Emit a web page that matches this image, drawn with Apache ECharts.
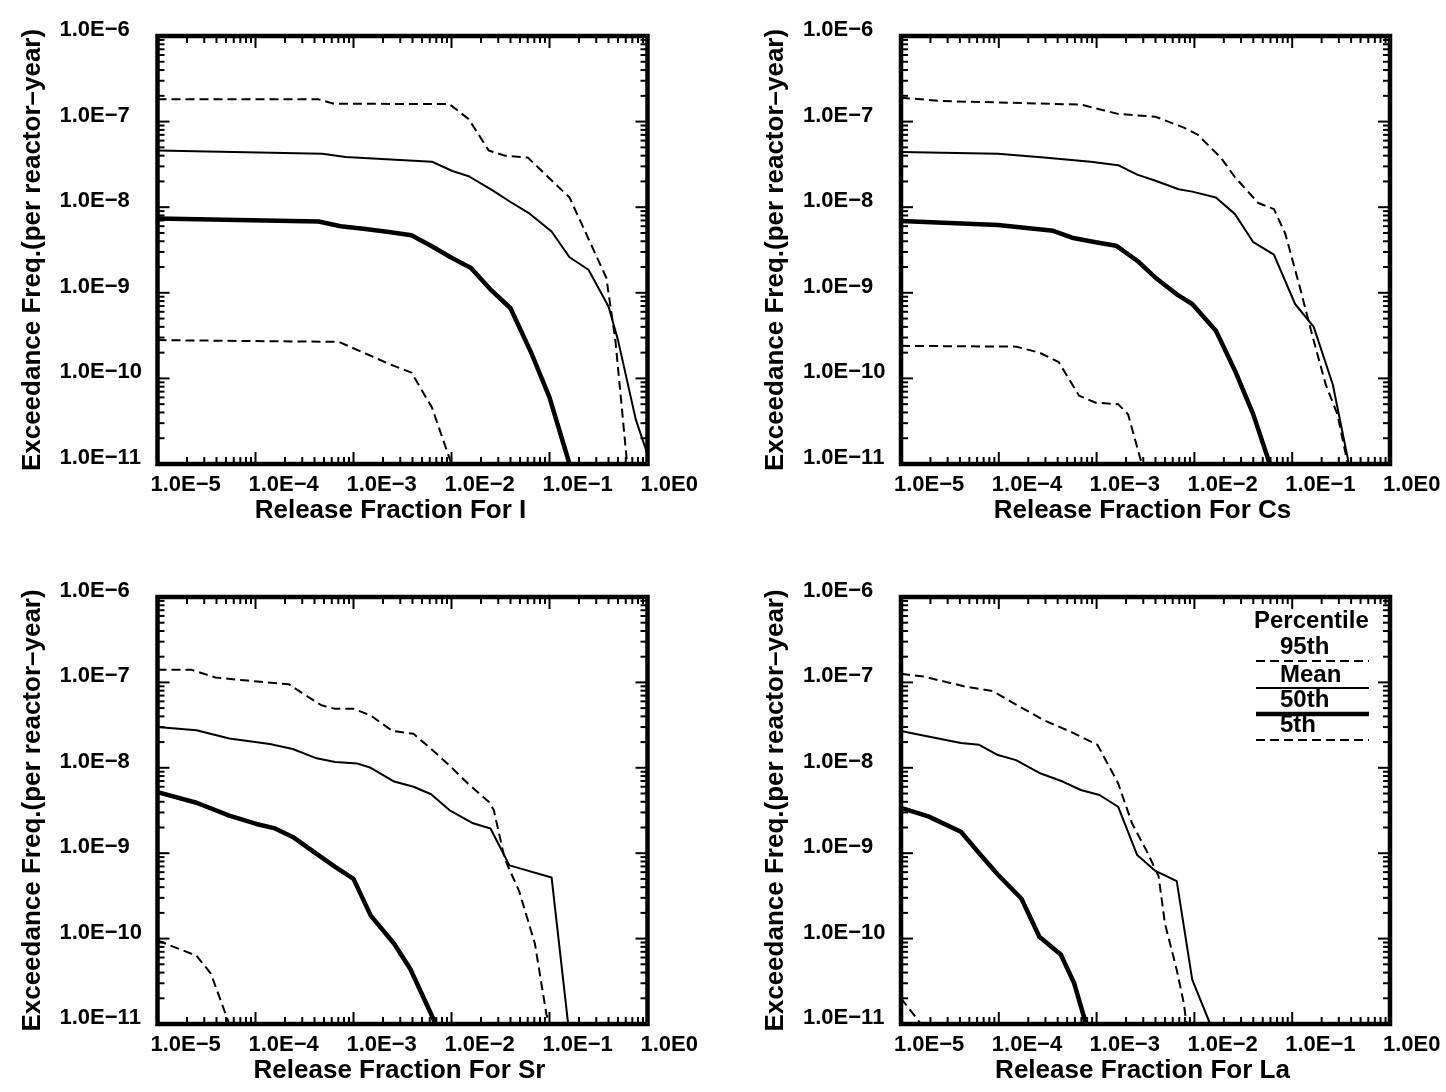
<!DOCTYPE html>
<html>
<head>
<meta charset="utf-8">
<script src="https://cdn.jsdelivr.net/npm/echarts@6/dist/echarts.min.js"></script>
<style>
html,body{margin:0;padding:0;background:#fff;}
#chart{width:1446px;height:1092px;}
</style>
</head>
<body>
<div id="chart"></div>
<script>
// Complementary cumulative distributions of release fraction, per nuclide group.
// Each point: [release fraction, exceedance frequency per reactor-year]

// Iodine
const iP95  = [[1e-5,1.82e-7],[4.4e-4,1.82e-7],[6.3e-4,1.62e-7],[9.5e-3,1.6e-7],[1.5e-2,1.07e-7],[2.4e-2,4.6e-8],[3.5e-2,4.0e-8],[6.0e-2,3.8e-8],[0.16,1.3e-8],[0.38,1.5e-9],[0.47,2.8e-10],[0.62,1e-11]];
const iMean = [[1e-5,4.6e-8],[4.8e-4,4.2e-8],[8.3e-4,3.85e-8],[6.3e-3,3.4e-8],[1.02e-2,2.65e-8],[1.5e-2,2.3e-8],[2.6e-2,1.58e-8],[4.0e-2,1.15e-8],[6.1e-2,8.6e-9],[0.105,5.2e-9],[0.16,2.6e-9],[0.25,1.86e-9],[0.40,6.9e-10],[0.50,2.8e-10],[0.76,3.3e-11],[1.0,1.3e-11]];
const iP50  = [[1e-5,7.4e-9],[4.4e-4,6.8e-9],[7.4e-4,6.0e-9],[1.26e-3,5.6e-9],[2.4e-3,5.1e-9],[3.9e-3,4.7e-9],[6.3e-3,3.5e-9],[9.8e-3,2.6e-9],[1.58e-2,1.95e-9],[2.45e-2,1.12e-9],[4.0e-2,6.6e-10],[6.5e-2,2.0e-10],[0.1,6.0e-11],[0.16,1e-11]];
const iP5   = [[1e-5,2.8e-10],[7.1e-4,2.67e-10],[1.4e-3,1.9e-10],[2.4e-3,1.45e-10],[3.9e-3,1.17e-10],[6.3e-3,4.6e-11],[1.0e-2,1e-11]];

// Cesium
const csP95  = [[1e-5,1.9e-7],[2.6e-5,1.74e-7],[6.9e-4,1.58e-7],[1.2e-3,1.35e-7],[1.66e-3,1.23e-7],[4.0e-3,1.14e-7],[7.8e-3,8.5e-8],[1.07e-2,7.1e-8],[1.86e-2,3.8e-8],[2.6e-2,2.24e-8],[4.5e-2,1.12e-8],[6.5e-2,9.5e-9],[8.5e-2,4.9e-9],[0.12,1.15e-9],[0.166,2.75e-10],[0.22,8.5e-11],[0.29,3.8e-11],[0.37,1e-11]];
const csMean = [[1e-5,4.4e-8],[9.8e-5,4.2e-8],[2.9e-4,3.8e-8],[8.7e-4,3.4e-8],[1.66e-3,3.1e-8],[2.6e-3,2.4e-8],[4.0e-3,2.04e-8],[6.9e-3,1.62e-8],[9.5e-3,1.52e-8],[1.66e-2,1.3e-8],[2.6e-2,8.3e-9],[4.0e-2,3.9e-9],[6.5e-2,2.8e-9],[0.107,7.4e-10],[0.166,4.0e-10],[0.26,8.5e-11],[0.38,1e-11]];
const csP50  = [[1e-5,6.9e-9],[9.8e-5,6.2e-9],[3.6e-4,5.3e-9],[5.6e-4,4.4e-9],[9.8e-4,3.9e-9],[1.58e-3,3.55e-9],[2.6e-3,2.37e-9],[4.0e-3,1.5e-9],[6.6e-3,9.6e-10],[9.5e-3,7.4e-10],[1.66e-2,3.6e-10],[2.6e-2,1.23e-10],[4.0e-2,3.8e-11],[5.9e-2,1e-11]];
const csP5   = [[1e-5,2.4e-10],[1.5e-4,2.35e-10],[2.6e-4,2.0e-10],[4.1e-4,1.55e-10],[6.6e-4,6.3e-11],[9.8e-4,5.2e-11],[1.66e-3,5.0e-11],[2.1e-3,3.8e-11],[2.9e-3,1e-11]];

// Strontium
const srP95  = [[1e-5,1.41e-7],[2.2e-5,1.41e-7],[3.9e-5,1.14e-7],[8.3e-5,1.05e-7],[2.2e-4,9.5e-8],[2.7e-4,8.1e-8],[4.7e-4,5.4e-8],[6.5e-4,4.9e-8],[1e-3,4.9e-8],[1.5e-3,4.1e-8],[2.5e-3,2.7e-8],[4.1e-3,2.5e-8],[6.2e-3,1.66e-8],[9.5e-3,1.07e-8],[1.48e-2,6.5e-9],[2.4e-2,4.0e-9],[2.7e-2,3.2e-9],[3.5e-2,8.5e-10],[4.9e-2,3.6e-10],[7.1e-2,8.7e-11],[9.3e-2,1.3e-11],[0.1,1e-11]];
const srMean = [[1e-5,3.0e-8],[2.5e-5,2.75e-8],[5.4e-5,2.2e-8],[1.4e-4,1.9e-8],[2.4e-4,1.66e-8],[4.2e-4,1.29e-8],[6.5e-4,1.17e-8],[1.1e-3,1.12e-8],[1.5e-3,1.0e-8],[2.6e-3,6.9e-9],[4.1e-3,6.0e-9],[6.2e-3,4.9e-9],[9.5e-3,3.2e-9],[1.66e-2,2.24e-9],[2.5e-2,1.95e-9],[3.9e-2,7.2e-10],[0.105,5.2e-10],[0.155,1e-11]];
const srP50  = [[1e-5,5.2e-9],[2.5e-5,3.9e-9],[5.4e-5,2.75e-9],[1.02e-4,2.2e-9],[1.58e-4,1.95e-9],[2.4e-4,1.55e-9],[4.2e-4,9.8e-10],[6.5e-4,6.9e-10],[1e-3,5.0e-10],[1.5e-3,1.86e-10],[2.6e-3,8.7e-11],[3.8e-3,4.4e-11],[6.9e-3,1e-11]];
const srP5   = [[1e-5,9.5e-11],[2.5e-5,6.3e-11],[3.5e-5,3.9e-11],[5.4e-5,1e-11]];

// Lanthanum
const laP95  = [[1e-5,1.26e-7],[1.7e-5,1.17e-7],[4.6e-5,8.9e-8],[8.7e-5,7.9e-8],[1.5e-4,5.5e-8],[2.9e-4,3.6e-8],[5.6e-4,2.6e-8],[1.02e-3,1.86e-8],[1.66e-3,6.6e-9],[2.3e-3,2.24e-9],[3.2e-3,1.1e-9],[4.3e-3,5.4e-10],[5.0e-3,1.5e-10],[6.6e-3,4.3e-11],[7.8e-3,1.74e-11],[8.3e-3,1e-11]];
const laMean = [[1e-5,2.7e-8],[1.5e-5,2.45e-8],[4.1e-5,1.95e-8],[6.3e-5,1.86e-8],[9.8e-5,1.41e-8],[1.5e-4,1.23e-8],[2.6e-4,8.7e-9],[4.5e-4,6.9e-9],[6.9e-4,5.5e-9],[1.07e-3,4.8e-9],[1.66e-3,3.5e-9],[2.6e-3,9.5e-10],[4.0e-3,6.2e-10],[6.6e-3,4.7e-10],[9.5e-3,3.3e-11],[1.45e-2,1e-11]];
const laP50  = [[1e-5,3.4e-9],[1.9e-5,2.7e-9],[4.1e-5,1.78e-9],[6.3e-5,1e-9],[9.8e-5,5.6e-10],[1.7e-4,2.95e-10],[2.6e-4,1.05e-10],[4.3e-4,6.5e-11],[5.9e-4,3.0e-11],[7.8e-4,1e-11]];
const laP5   = [[1e-5,2.0e-11],[1.6e-5,1e-11]];

// Axis tick labels
const xTickLabels = ['1.0E\u22125','1.0E\u22124','1.0E\u22123','1.0E\u22122','1.0E\u22121','1.0E0'];
const yTickLabels = ['1.0E\u221211','1.0E\u221210','1.0E\u22129','1.0E\u22128','1.0E\u22127','1.0E\u22126'];
const xTitles = ['Release Fraction For I','Release Fraction For Cs','Release Fraction For Sr','Release Fraction For La'];
const yTitle = 'Exceedance Freq.(per reactor\u2013year)';
const legendTitle = 'Percentile';
const legendNames = ['95th','Mean','50th','5th'];

const panelData = [
  [iP95, iMean, iP50, iP5],
  [csP95, csMean, csP50, csP5],
  [srP95, srMean, srP50, srP5],
  [laP95, laMean, laP50, laP5]
];

const X_MIN = 1e-5, X_MAX = 1, Y_MIN = 1e-11, Y_MAX = 1e-6;
const FONT = '"Liberation Sans", Arial, sans-serif';
const DASH = [9, 5];

// line style per percentile curve: 95th, mean, 50th, 5th
const curveStyles = [
  {width: 2,   type: DASH},
  {width: 2,   type: 'solid'},
  {width: 4.5, type: 'solid'},
  {width: 2,   type: DASH}
];

const grids = [
  {left: 157.5, top: 36,  width: 490, height: 428},
  {left: 901,   top: 36,  width: 489, height: 428},
  {left: 157.5, top: 597, width: 490, height: 427},
  {left: 901,   top: 597, width: 489, height: 427}
];
// horizontal nudge of each x-axis title (right padding shifts it left)
const xTitlePad = [24, 6, 6, 6];

// log-decade tick marks (value, major flag) for both axes
function decadeTicks(lo, hi) {
  const out = [];
  for (let e = lo; e < hi; e++) {
    for (let m = 1; m <= 9; m++) out.push([m * Math.pow(10, e), m === 1 ? 1 : 0]);
  }
  out.push([Math.pow(10, hi), 1]);
  return out;
}
const xTicks = decadeTicks(-5, 0);
const yTicks = decadeTicks(-11, -6);
const tickData = [];
xTicks.forEach(t => tickData.push([t[0], Y_MIN, 0, t[1]]));
yTicks.forEach(t => tickData.push([X_MIN, t[0], 1, t[1]]));

// inward tick marks on all four sides of a frame
function renderTicks(params, api) {
  const kind = api.value(2);
  const major = api.value(3);
  const len = major ? 12 : 7;
  const st = {stroke: '#000', lineWidth: 2};
  if (kind === 0) {
    const v = api.value(0);
    const b = api.coord([v, Y_MIN]);
    const t = api.coord([v, Y_MAX]);
    return {type: 'group', children: [
      {type: 'line', shape: {x1: b[0], y1: b[1], x2: b[0], y2: b[1] - len}, style: st},
      {type: 'line', shape: {x1: t[0], y1: t[1], x2: t[0], y2: t[1] + len}, style: st}
    ]};
  }
  const v = api.value(1);
  const l = api.coord([X_MIN, v]);
  const r = api.coord([X_MAX, v]);
  return {type: 'group', children: [
    {type: 'line', shape: {x1: l[0], y1: l[1], x2: l[0] + len, y2: l[1]}, style: st},
    {type: 'line', shape: {x1: r[0], y1: r[1], x2: r[0] - len, y2: r[1]}, style: st}
  ]};
}

const labelRich = {
  t: {fontFamily: FONT, fontWeight: 'bold', fontSize: 22, lineHeight: 24, color: '#000'},
  s: {fontSize: 1, lineHeight: 12}
};

const option = {
  animation: false,
  backgroundColor: '#fff',
  textStyle: {fontFamily: FONT, color: '#000'},
  grid: grids.map(g => Object.assign({
    show: true, borderColor: '#000', borderWidth: 4.5, backgroundColor: 'transparent', containLabel: false
  }, g)),
  xAxis: grids.map((g, i) => ({
    type: 'log', logBase: 10, gridIndex: i, min: X_MIN, max: X_MAX, splitNumber: 5,
    axisLine: {show: false}, axisTick: {show: false}, splitLine: {show: false}, minorTick: {show: false},
    axisLabel: {
      show: true, color: '#000', fontFamily: FONT, fontWeight: 'bold', fontSize: 22,
      align: 'left', verticalAlign: 'top', margin: 10, padding: [0, 0, 0, -7],
      formatter: v => xTickLabels[Math.round(Math.log10(v)) + 5]
    },
    name: xTitles[i], nameLocation: 'middle', nameGap: 34,
    nameTextStyle: {color: '#000', fontFamily: FONT, fontWeight: 'bold', fontSize: 26,
      verticalAlign: 'top', padding: [0, xTitlePad[i], 0, 0]}
  })),
  yAxis: grids.map((g, i) => ({
    type: 'log', logBase: 10, gridIndex: i, min: Y_MIN, max: Y_MAX, splitNumber: 5,
    axisLine: {show: false}, axisTick: {show: false}, splitLine: {show: false}, minorTick: {show: false},
    axisLabel: {
      show: true, color: '#000', align: 'left', verticalAlign: 'middle', margin: 98,
      rich: labelRich,
      formatter: v => '{t|' + yTickLabels[Math.round(Math.log10(v)) + 11] + '}\n{s| }'
    },
    name: yTitle, nameLocation: 'middle', nameGap: 112,
    nameTextStyle: {color: '#000', fontFamily: FONT, fontWeight: 'bold', fontSize: 26}
  })),
  series: []
};

panelData.forEach((curves, i) => {
  curves.forEach((pts, k) => {
    option.series.push({
      type: 'line', xAxisIndex: i, yAxisIndex: i, data: pts,
      symbol: 'none', silent: true, clip: true,
      lineStyle: {color: '#000', width: curveStyles[k].width, type: curveStyles[k].type, join: 'round', cap: 'butt'}
    });
  });
  option.series.push({
    type: 'custom', xAxisIndex: i, yAxisIndex: i, data: tickData,
    renderItem: renderTicks, silent: true, clip: false, z: 5
  });
});

// Percentile key inside the La panel
const keyFont = 'bold 24px ' + FONT;
const keyLeft = 1256, keyRight = 1369, keyTextX = 1280;
const keyRows = [
  {y: 647, lineY: 661, style: curveStyles[0]},
  {y: 675, lineY: 688, style: curveStyles[1]},
  {y: 700, lineY: 714, style: curveStyles[2]},
  {y: 725, lineY: 740, style: curveStyles[3]}
];
const graphic = [{
  type: 'text', x: 1254, y: 621, z: 10,
  style: {text: legendTitle, font: keyFont, fill: '#000', verticalAlign: 'middle'}
}];
keyRows.forEach((r, k) => {
  graphic.push({type: 'text', x: keyTextX, y: r.y, z: 10,
    style: {text: legendNames[k], font: keyFont, fill: '#000', verticalAlign: 'middle'}});
  graphic.push({type: 'line', z: 10,
    shape: {x1: keyLeft, y1: r.lineY, x2: keyRight, y2: r.lineY},
    style: {stroke: '#000', lineWidth: r.style.width, lineDash: Array.isArray(r.style.type) ? r.style.type : null}});
});
option.graphic = graphic;

const chart = echarts.init(document.getElementById('chart'), null, {renderer: 'canvas'});
chart.setOption(option);
</script>
</body>
</html>
